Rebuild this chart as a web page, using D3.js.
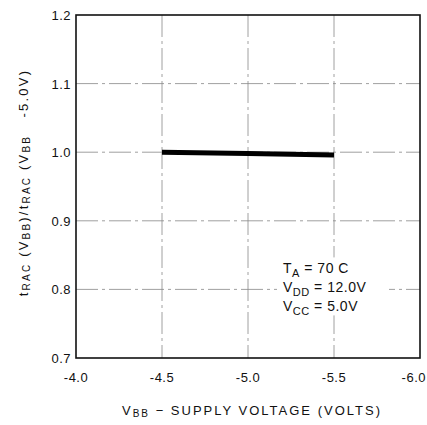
<!DOCTYPE html>
<html>
<head>
<meta charset="utf-8">
<script src="https://cdn.jsdelivr.net/npm/d3@7"></script>
<style>
  body { margin: 0; background: #fff; }
  text { font-family: "Liberation Sans", Arial, sans-serif; fill: #111; }
</style>
</head>
<body>
<div id="chart"></div>
<script>
const xTicks = [-4.0, -4.5, -5.0, -5.5, -6.0];
const yTicks = [0.7, 0.8, 0.9, 1.0, 1.1, 1.2];
const vbb = [-4.5, -5.0, -5.5];
const ratio = [1.0, 0.998, 0.996];
const notes = [["T", "A", " = 70  C"], ["V", "DD", " = 12.0V"], ["V", "CC", " = 5.0V"]];

const width = 427, height = 425;
const margin = { top: 15, right: 7, bottom: 67, left: 76 };

const svg = d3.select("#chart").append("svg")
  .attr("width", width)
  .attr("height", height);

const x = d3.scaleLinear().domain([-4.0, -6.0]).range([margin.left, width - margin.right]);
const y = d3.scaleLinear().domain([0.7, 1.2]).range([height - margin.bottom, margin.top]);

// grid
const grid = svg.append("g")
  .attr("stroke", "#888")
  .attr("stroke-width", 0.8)
  .attr("stroke-dasharray", "22,4,3,4");

grid.selectAll(".gx")
  .data(xTicks.slice(1, -1))
  .enter().append("line")
  .attr("x1", d => x(d)).attr("x2", d => x(d))
  .attr("y1", y(1.2)).attr("y2", y(0.7));

grid.selectAll(".gy")
  .data(yTicks.slice(1, -1))
  .enter().append("line")
  .attr("x1", x(-4.0)).attr("x2", x(-6.0))
  .attr("y1", d => y(d)).attr("y2", d => y(d));

// frame
svg.append("rect")
  .attr("x", x(-4.0)).attr("y", y(1.2))
  .attr("width", x(-6.0) - x(-4.0))
  .attr("height", y(0.7) - y(1.2))
  .attr("fill", "none")
  .attr("stroke", "#111")
  .attr("stroke-width", 1.6);

// tick labels
svg.append("g").selectAll("text")
  .data(xTicks)
  .enter().append("text")
  .attr("x", (d, i) => i === xTicks.length - 1 ? width - 1 : x(d))
  .attr("y", y(0.7) + 24)
  .attr("text-anchor", (d, i) => i === xTicks.length - 1 ? "end" : "middle")
  .attr("font-size", "13px")
  .attr("letter-spacing", "0.5px")
  .text(d => d.toFixed(1));

svg.append("g").selectAll("text")
  .data(yTicks)
  .enter().append("text")
  .attr("x", x(-4.0) - 5)
  .attr("y", d => y(d) + 5)
  .attr("text-anchor", "end")
  .attr("font-size", "13px")
  .attr("letter-spacing", "0.5px")
  .text(d => d.toFixed(1));

// data line
svg.append("path")
  .datum(vbb.map((v, i) => [v, ratio[i]]))
  .attr("fill", "none")
  .attr("stroke", "#000")
  .attr("stroke-width", 5)
  .attr("d", d3.line().x(d => x(d[0])).y(d => y(d[1])));

// notes box
const nx = 283, ny = y(0.8);
svg.append("rect")
  .attr("x", nx - 6).attr("y", ny - 32)
  .attr("width", 112).attr("height", 58)
  .attr("fill", "#fff");

const note = svg.append("g");
notes.forEach((n, i) => {
  const t = note.append("text")
    .attr("x", nx)
    .attr("y", ny - 20 + i * 19 + 4)
    .attr("font-size", "14px")
    .attr("letter-spacing", "0.5px");
  t.append("tspan").text(n[0]);
  t.append("tspan").attr("font-size", "11px").attr("dy", 4).text(n[1]);
  t.append("tspan").attr("dy", -4).text(n[2]);
});

// x axis title
const xt = svg.append("text")
  .attr("x", (x(-4.0) + x(-6.0)) / 2 + 4)
  .attr("y", 415)
  .attr("text-anchor", "middle")
  .attr("font-size", "13px")
  .attr("letter-spacing", "2px");
xt.append("tspan").text("V");
xt.append("tspan").attr("font-size", "10px").attr("dy", 2).text("BB");
xt.append("tspan").attr("dy", -2).text(" \u2212 SUPPLY VOLTAGE (VOLTS)");

// y axis title
const yt = svg.append("text")
  .attr("transform", `translate(28,${(y(0.7) + y(1.2)) / 2 - 4}) rotate(-90)`)
  .attr("text-anchor", "middle")
  .attr("font-size", "13px")
  .attr("letter-spacing", "2.2px");
yt.append("tspan").text("t");
yt.append("tspan").attr("font-size", "10px").attr("dy", 2).text("RAC");
yt.append("tspan").attr("dy", -2).text(" (V");
yt.append("tspan").attr("font-size", "10px").attr("dy", 2).text("BB");
yt.append("tspan").attr("dy", -2).text(")/t");
yt.append("tspan").attr("font-size", "10px").attr("dy", 2).text("RAC");
yt.append("tspan").attr("dy", -2).text(" (V");
yt.append("tspan").attr("font-size", "10px").attr("dy", 2).text("BB");
yt.append("tspan").attr("dy", -2).text("\u00a0\u00a0\u00a0-5.0V)");
</script>
</body>
</html>
